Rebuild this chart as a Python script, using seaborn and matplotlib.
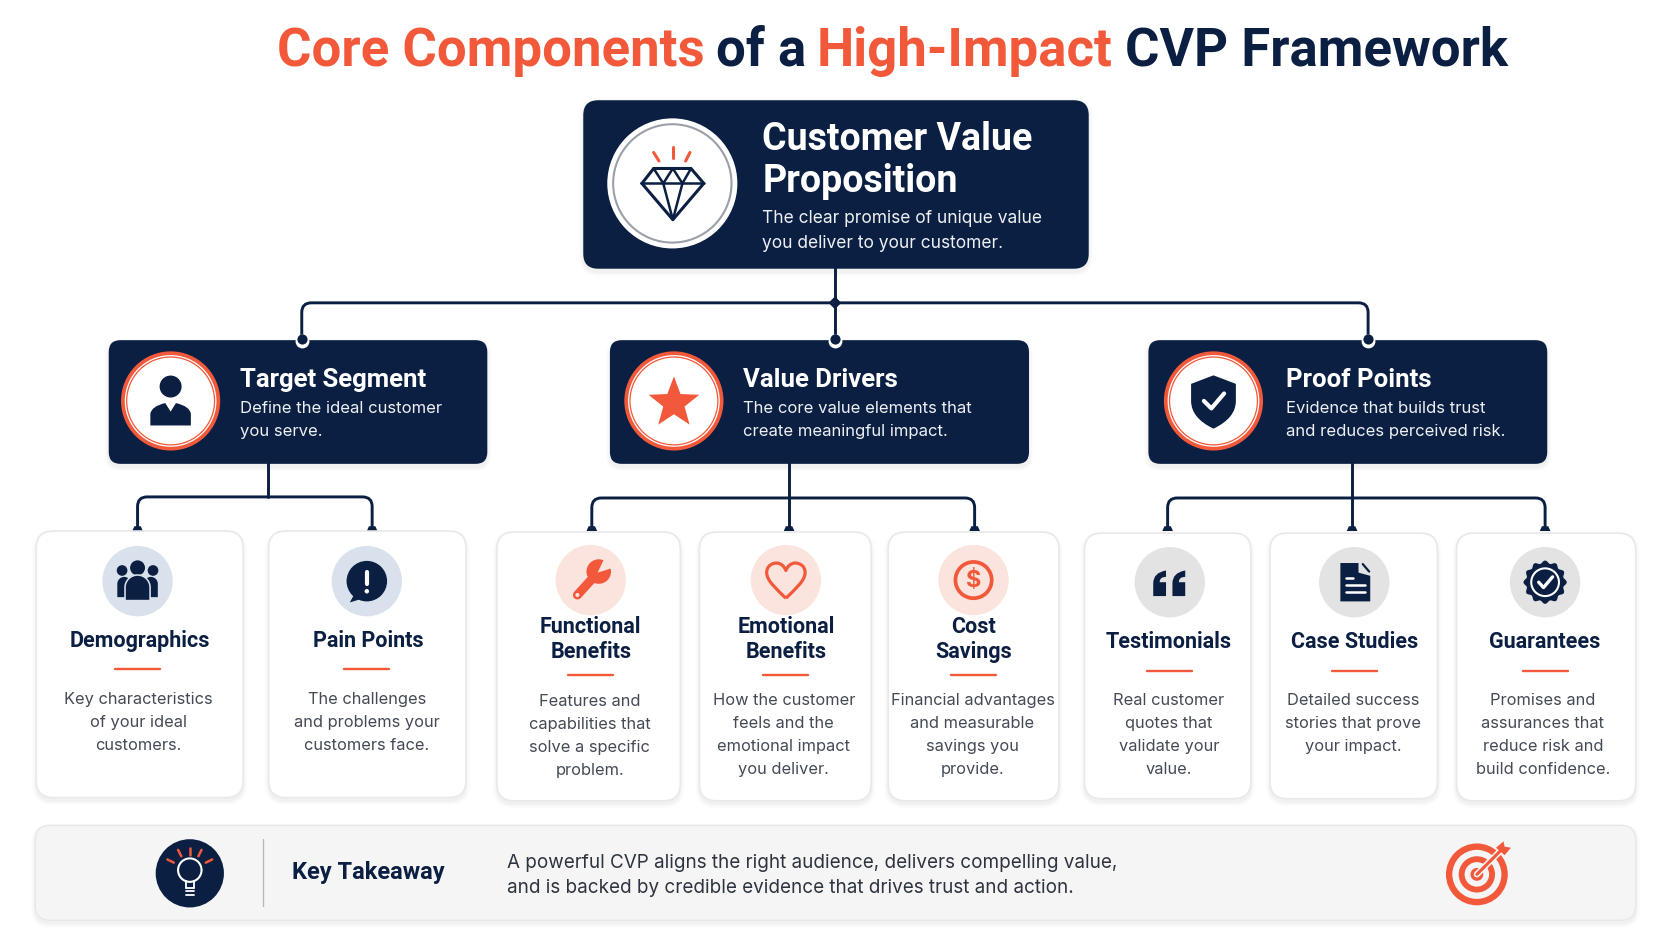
import numpy as np
import pandas as pd
import seaborn as sns
import matplotlib
matplotlib.use("Agg")
import matplotlib.pyplot as plt
from matplotlib.patches import FancyBboxPatch, Circle, Polygon, PathPatch
from matplotlib.path import Path

NAVY = "#0a1f42"
ORANGE = "#f2593a"
BODY = "#434a55"
HEAD_FONT = ["Roboto", "Inter", "DejaVu Sans"]

# text content
title_parts = ["Core Components", "of a", "High-Impact", "CVP Framework"]
root_title = ["Customer Value", "Proposition"]
root_desc = ["The clear promise of unique value", "you deliver to your customer."]
pillar_titles = ["Target Segment", "Value Drivers", "Proof Points"]
pillar_desc = [
    ["Define the ideal customer", "you serve."],
    ["The core value elements that", "create meaningful impact."],
    ["Evidence that builds trust", "and reduces perceived risk."],
]
card_titles = [
    ["Demographics"], ["Pain Points"],
    ["Functional", "Benefits"], ["Emotional", "Benefits"], ["Cost", "Savings"],
    ["Testimonials"], ["Case Studies"], ["Guarantees"],
]
card_desc = [
    ["Key characteristics", "of your ideal", "customers."],
    ["The challenges", "and problems your", "customers face."],
    ["Features and", "capabilities that", "solve a specific", "problem."],
    ["How the customer", "feels and the", "emotional impact", "you deliver."],
    ["Financial advantages", "and measurable", "savings you", "provide."],
    ["Real customer", "quotes that", "validate your", "value."],
    ["Detailed success", "stories that prove", "your impact."],
    ["Promises and", "assurances that", "reduce risk and", "build confidence."],
]
takeaway_label = "Key Takeaway"
takeaway_lines = [
    "A powerful CVP aligns the right audience, delivers compelling value,",
    "and is backed by credible evidence that drives trust and action.",
]

# layout, in units of the 1568 wide drawing
title_x = [260, 671, 766, 1055]
pillar_boxes = [(102, 457), (572, 965), (1077, 1451)]
pillar_icon_x = [160, 632, 1138]
pillar_text_x = [225, 697, 1206]
card_x0 = [34, 252, 466, 656, 833, 1017, 1191, 1366]
card_x1 = [228, 437, 638, 817, 993, 1173, 1348, 1534]
card_y0 = [498, 498, 499, 499, 499, 500, 500, 500]
card_y1 = [748, 748, 751, 751, 751, 749, 749, 751]
card_cx = [130, 344, 553, 735, 912, 1096, 1269, 1447]
card_title_x = [131, 345, 554, 737, 913, 1096, 1270, 1449]
disc_x = [129, 344, 554, 737, 913, 1097, 1270, 1449]
disc_y = [545, 545, 544, 544, 544, 546, 546, 546]
card_title_y = [600, 600, 587, 587, 587, 601, 601, 601]
dash_y = [627, 627, 633, 633, 633, 629, 629, 629]
desc_y = [655, 655, 657, 656, 656, 656, 656, 656]
disc_group = ["navy", "navy", "peach", "peach", "peach", "grey", "grey", "grey"]
drops = [(251, 466, [129, 349]), (740, 467, [555, 740, 914]), (1268, 467, [1095, 1268, 1449])]

sns.set_theme(style="white")
plt.rcParams["font.family"] = ["Inter", "Roboto", "DejaVu Sans"]

fig, ax = plt.subplots(figsize=(16.72, 9.41), dpi=100)
fig.subplots_adjust(0, 0, 1, 1)
H = 1568 * 941 / 1672
PX = 1672 / 1568  # pixels per drawing unit


def rrect(x0, y0, x1, y1, r, fc, ec="none", lw=0, z=2, alpha=None):
    ax.add_patch(FancyBboxPatch((x0, y0), x1 - x0, y1 - y0, boxstyle=f"round,pad=0,rounding_size={r}",
                                fc=fc, ec=ec, lw=lw, zorder=z, alpha=alpha))


def disc(x, y, r, fc, z=4, ec="none", lw=0):
    ax.add_patch(Circle((x, y), r, fc=fc, ec=ec, lw=lw, zorder=z))


def poly(pts, fc, z=4):
    ax.add_patch(Polygon(pts, closed=True, fc=fc, ec="none", zorder=z))


def stroke(xs, ys, color, lw, z=4):
    ax.plot(xs, ys, color=color, lw=lw, zorder=z, solid_capstyle="round", solid_joinstyle="round")


def shadow(x0, y0, x1, y1, r):
    for grow, a in [(4, 0.012), (2.5, 0.018), (1, 0.025)]:
        rrect(x0 - grow, y0 - grow + 3, x1 + grow, y1 + grow + 3, r + grow, "#000000", z=1, alpha=a)


def dome(x0, x1, ytop, ybot, fc, z=5):
    # flat bottom, rounded top
    cx = (x0 + x1) / 2
    k = 0.55
    mid = ytop + (x1 - x0) / 2
    v = [(x0, ybot), (x0, mid), (x0, mid - (mid - ytop) * k), (cx - (cx - x0) * k, ytop), (cx, ytop),
         (cx + (cx - x0) * k, ytop), (x1, mid - (mid - ytop) * k), (x1, mid), (x1, ybot), (x0, ybot)]
    c = [Path.MOVETO, Path.LINETO, Path.CURVE4, Path.CURVE4, Path.CURVE4, Path.CURVE4, Path.CURVE4, Path.CURVE4,
         Path.LINETO, Path.CLOSEPOLY]
    ax.add_patch(PathPatch(Path(v, c), fc=fc, ec="none", zorder=z))


def elbow(xl, xr, yt, yb, r=9):
    v = [(xl, yb), (xl, yt + r), (xl, yt), (xl + r, yt), (xr - r, yt), (xr, yt), (xr, yt + r), (xr, yb)]
    c = [Path.MOVETO, Path.LINETO, Path.CURVE3, Path.CURVE3, Path.LINETO, Path.CURVE3, Path.CURVE3, Path.LINETO]
    ax.add_patch(PathPatch(Path(v, c), fc="none", ec=NAVY, lw=2.1, zorder=1.5))


def icon_gem():
    xs = [602, 613, 648, 660, 631, 602]
    ys = [172, 158, 158, 172, 206, 172]
    stroke(xs, ys, NAVY, 2.2)
    stroke([602, 660], [172, 172], NAVY, 1.8)
    stroke([613, 622, 631, 640, 648], [158, 172, 158, 172, 158], NAVY, 1.8)
    stroke([622, 631, 640], [172, 206, 172], NAVY, 1.8)
    stroke([631, 631], [138, 148], ORANGE, 2.2)
    stroke([613, 618], [143, 151], ORANGE, 2.2)
    stroke([647, 643], [143, 151], ORANGE, 2.2)


def icon_person(cx):
    disc(cx, 362.5, 10.3, NAVY)
    v = [(cx - 19, 399), (cx - 19, 388), (cx - 18, 381), (cx - 5, 378), (cx, 386), (cx + 5, 378), (cx + 18, 381),
         (cx + 19, 388), (cx + 19, 399), (cx - 19, 399)]
    c = [Path.MOVETO, Path.LINETO, Path.CURVE3, Path.CURVE3, Path.LINETO, Path.LINETO, Path.CURVE3, Path.CURVE3,
         Path.LINETO, Path.CLOSEPOLY]
    ax.add_patch(PathPatch(Path(v, c), fc=NAVY, ec="none", zorder=4))


def icon_star(cx):
    ang = np.deg2rad(-90 + 36 * np.arange(10))
    rad = np.where(np.arange(10) % 2 == 0, 25, 10.5)
    poly(np.c_[cx + rad * np.cos(ang), 378 + rad * np.sin(ang)], ORANGE)


def icon_shield(cx):
    v = [(cx, 352), (cx + 21, 360), (cx + 21, 376), (cx + 21, 392), (cx, 402), (cx - 21, 392), (cx - 21, 376),
         (cx - 21, 360), (cx, 352)]
    c = [Path.MOVETO, Path.LINETO, Path.LINETO, Path.CURVE3, Path.CURVE3, Path.CURVE3, Path.CURVE3, Path.LINETO,
         Path.CLOSEPOLY]
    ax.add_patch(PathPatch(Path(v, c), fc=NAVY, ec="none", zorder=4))
    stroke([cx - 9, cx - 2, cx + 10], [376, 383, 369], "white", 3, z=5)


def icon_group(cx, cy):
    disc(cx - 14.5, cy - 10, 5, NAVY)
    disc(cx + 14.5, cy - 10, 5, NAVY)
    dome(cx - 19, cx - 6, cy - 4, cy + 15, NAVY)
    dome(cx + 6, cx + 19, cy - 4, cy + 15, NAVY)
    disc(cx, cy - 12.5, 7, NAVY, z=6)
    dome(cx - 12.5, cx + 12.5, cy - 6.5, cy + 18, "#d9e2ec", z=6)
    dome(cx - 11, cx + 11, cy - 5, cy + 17.5, NAVY, z=7)


def icon_bubble(cx, cy):
    disc(cx, cy, 19, NAVY)
    poly([(cx - 11, cy + 11), (cx - 16, cy + 20), (cx - 3, cy + 16)], NAVY)
    stroke([cx, cx], [cy - 9, cy + 3], "white", 3, z=5)
    disc(cx, cy + 9.5, 2.1, "white", z=5)


def icon_wrench(cx, cy):
    hx, hy = cx + 7.5, cy - 8
    stroke([cx - 12.5, hx], [cy + 14, hy], ORANGE, 6.5)
    disc(hx, hy, 11.5, ORANGE)
    poly([(hx - 1, hy + 1), (hx + 6, hy - 14), (hx + 15, hy - 4)], "#fbe4dd", z=5)
    disc(cx - 12.5, cy + 14, 1.9, "#fbe4dd", z=5)


def icon_heart(cx, cy):
    v = [(cx, cy + 17), (cx - 8, cy + 9), (cx - 18, cy + 1), (cx - 18, cy - 7), (cx - 18, cy - 14), (cx - 12, cy - 16),
         (cx - 9, cy - 16), (cx - 4, cy - 16), (cx - 1, cy - 12), (cx, cy - 9), (cx + 1, cy - 12), (cx + 4, cy - 16),
         (cx + 9, cy - 16), (cx + 12, cy - 16), (cx + 18, cy - 14), (cx + 18, cy - 7), (cx + 18, cy + 1),
         (cx + 8, cy + 9), (cx, cy + 17)]
    c = [Path.MOVETO] + [Path.CURVE4] * 18
    ax.add_patch(PathPatch(Path(v, c), fc="none", ec=ORANGE, lw=2.3, zorder=4, joinstyle="round"))


def icon_dollar(cx, cy):
    disc(cx, cy, 17, "none", ec=ORANGE, lw=2.7)
    ax.text(cx, cy + 1, "$", color=ORANGE, fontsize=17, fontweight="bold", ha="center", va="center", zorder=5)


def icon_quotes(cx, cy):
    for ox in (cx - 15.5, cx + 2.5):
        v = [(ox, cy + 13), (ox, cy + 1), (ox, cy - 9), (ox + 12, cy - 11), (ox + 12, cy - 5), (ox + 6, cy - 5),
             (ox + 6, cy), (ox + 12, cy), (ox + 12, cy + 13), (ox, cy + 13)]
        c = [Path.MOVETO, Path.LINETO, Path.CURVE3, Path.CURVE3, Path.LINETO, Path.CURVE3, Path.CURVE3, Path.LINETO,
             Path.LINETO, Path.CLOSEPOLY]
        ax.add_patch(PathPatch(Path(v, c), fc=NAVY, ec="none", zorder=4))


def icon_doc(cx, cy):
    poly([(cx - 13, cy - 18), (cx + 4, cy - 18), (cx + 4, cy - 9), (cx + 15, cy - 6), (cx + 15, cy + 18),
          (cx - 13, cy + 18)], NAVY)
    stroke([cx + 8, cx + 14], [cy - 17, cy - 10], NAVY, 1.6)
    stroke([cx - 8, cx - 1], [cy - 4, cy - 4], "white", 1.8, z=5)
    stroke([cx - 8, cx + 10], [cy + 3, cy + 3], "white", 1.8, z=5)
    stroke([cx - 8, cx + 10], [cy + 9, cy + 9], "white", 1.8, z=5)


def icon_badge(cx, cy):
    th = np.linspace(0, 2 * np.pi, 240)
    rad = 19 + 1.3 * np.cos(12 * th)
    poly(np.c_[cx + rad * np.cos(th), cy + rad * np.sin(th)], NAVY)
    disc(cx, cy, 13, "none", ec="white", lw=1.5, z=5)
    stroke([cx - 6, cx - 1.5, cx + 7], [cy, cy + 5, cy - 5], "white", 2.4, z=5)


def icon_bulb(cx, cy):
    disc(cx, cy, 32, NAVY, z=3)
    disc(cx, cy - 3, 11, "none", ec="white", lw=1.5)
    stroke([cx - 4, cx - 4], [cy + 7, cy + 14], "white", 1.3)
    stroke([cx + 4, cx + 4], [cy + 7, cy + 14], "white", 1.3)
    for dy in (14, 17, 20):
        stroke([cx - 4, cx + 4], [cy + dy, cy + dy], "white", 1.3)
    for x0, y0, x1, y1 in [(0, -24, 0, -17), (-11, -22, -8, -16), (11, -22, 8, -16), (-21, -13, -15, -10),
                           (21, -13, 15, -10)]:
        stroke([cx + x0, cx + x1], [cy + y0, cy + y1], ORANGE, 1.8)


def icon_target(cx, cy):
    for r, col in [(29, ORANGE), (23, "#f5f5f5"), (17, ORANGE), (11.5, "#f5f5f5"), (6, ORANGE)]:
        disc(cx, cy, r, col, z=3.5)
    stroke([cx, cx + 21], [cy, cy - 21], "#f5f5f5", 4.5, z=3.6)
    stroke([cx, cx + 22], [cy, cy - 22], ORANGE, 2.2, z=3.7)
    poly([(cx + 18, cy - 25), (cx + 25, cy - 31), (cx + 26, cy - 26), (cx + 32, cy - 25), (cx + 26, cy - 18)], ORANGE)


# connectors first, boxes sit on top of them
elbow(283, 1283, 284, 319)
ax.plot([783, 783], [250, 319], color=NAVY, lw=2.1, zorder=1.5)
for x_stem, y_bar, x_drops in drops:
    ax.plot([x_stem, x_stem], [433, y_bar], color=NAVY, lw=2.1, zorder=1.5)
    elbow(x_drops[0], x_drops[-1], y_bar, 496)
    if len(x_drops) == 3:
        ax.plot([x_drops[1]] * 2, [y_bar, 496], color=NAVY, lw=2.1, zorder=1.5)
    for x in x_drops:
        poly([(x - 5, 498), (x - 3, 493.5), (x + 3, 493.5), (x + 5, 498)], NAVY, z=1.6)
poly([(783, 278), (789, 284), (783, 290), (777, 284)], NAVY, z=1.6)

# root box
shadow(547, 94, 1021, 252, 14)
rrect(547, 94, 1021, 252, 14, NAVY)
disc(630.5, 172, 61, "white", z=3)
disc(630.5, 172, 55.5, "none", ec="#9a9fa8", lw=1.5, z=3.2)
icon_gem()
for y, txt in zip([131, 170], root_title):
    ax.text(715, y, txt, color="white", fontsize=27, fontweight="bold", family=HEAD_FONT, va="center", zorder=5)
for y, txt in zip([205, 228], root_desc):
    ax.text(715, y, txt, color="#eef0f4", fontsize=12.5, va="center", zorder=5)

# pillar boxes
for i, (x0, x1) in enumerate(pillar_boxes):
    shadow(x0, 319, x1, 435, 11)
    rrect(x0, 319, x1, 435, 11, NAVY)
    cx = pillar_icon_x[i]
    disc(cx, 376, 46.5, ORANGE, z=3)
    disc(cx, 376, 43, "white", z=3.1)
    disc(cx, 376, 41.8, ORANGE, z=3.2)
    disc(cx, 376, 40.6, "white", z=3.3)
    ax.text(pillar_text_x[i], 356, pillar_titles[i], color="white", fontsize=18.5, fontweight="bold", family=HEAD_FONT,
            va="center", zorder=5)
    for y, txt in zip([383, 405], pillar_desc[i]):
        ax.text(pillar_text_x[i], y, txt, color="#eef0f4", fontsize=12, va="center", zorder=5)
icon_person(pillar_icon_x[0])
icon_star(pillar_icon_x[1])
icon_shield(pillar_icon_x[2])

# cards
for i in range(len(card_titles)):
    shadow(card_x0[i], card_y0[i], card_x1[i], card_y1[i], 16)
    rrect(card_x0[i], card_y0[i], card_x1[i], card_y1[i], 16, "white", ec="#e9e9e9", lw=1.2)
    for j, txt in enumerate(card_titles[i]):
        ax.text(card_title_x[i], card_title_y[i] + 1 + j * 23, txt, color=NAVY, fontsize=15.5, fontweight="bold",
                family=HEAD_FONT, ha="center", va="center", zorder=5)
    ax.plot([disc_x[i] - 21, disc_x[i] + 21], [dash_y[i]] * 2, color=ORANGE, lw=1.7, zorder=4)
    for j, txt in enumerate(card_desc[i]):
        ax.text(card_cx[i], desc_y[i] + 1 + j * 21.6, txt, color=BODY, fontsize=11.8,
                ha="center", va="center", zorder=5)

# round backdrops of the icons
discs = pd.DataFrame({"x": disc_x, "y": disc_y, "group": disc_group})
sns.scatterplot(data=discs, x="x", y="y", hue="group", s=(2 * 33 * PX * 0.72) ** 2, linewidth=0, legend=False, ax=ax,
                palette={"navy": "#d9e2ec", "peach": "#fbe4dd", "grey": "#e3e3e3"}, zorder=3)

# white and navy dots where the root line meets the pillars
dots = pd.DataFrame({"x": [283, 783, 1283], "y": [319.5] * 3})
sns.scatterplot(data=dots, x="x", y="y", color="white", s=(13 * PX * 0.72) ** 2, linewidth=0, ax=ax, zorder=3)
sns.scatterplot(data=dots, x="x", y=dots["y"] - 1.5, color=NAVY, s=(9.5 * PX * 0.72) ** 2, linewidth=0, ax=ax, zorder=3.1)

icon_group(129, 545)
icon_bubble(344, 545)
icon_wrench(554, 544)
icon_heart(737, 544)
icon_dollar(913, 544)
icon_quotes(1097, 546)
icon_doc(1270, 546)
icon_badge(1449, 546)

# takeaway bar
shadow(33, 774, 1534, 863, 14)
rrect(33, 774, 1534, 863, 14, "#f5f5f5", ec="#e8e8e8", lw=1)
icon_bulb(178, 819)
ax.plot([247, 247], [787, 850], color="#b5b8bd", lw=1, zorder=4)
ax.text(274, 818, takeaway_label, color=NAVY, fontsize=17, fontweight="bold", family=HEAD_FONT, va="center", zorder=5)
for y, txt in zip([809, 833], takeaway_lines):
    ax.text(475, y, txt, color="#2d3440", fontsize=13.6, va="center", zorder=5)
icon_target(1385, 820)

# headline, two colours
for x, txt, col in zip(title_x, title_parts, [ORANGE, NAVY, ORANGE, NAVY]):
    ax.text(x, 48, txt, color=col, fontsize=38, fontweight="bold", family=HEAD_FONT, va="center", zorder=5)

ax.set_xlim(0, 1568)
ax.set_ylim(H, 0)
ax.set_xlabel("")
ax.set_ylabel("")
ax.set_axis_off()
fig.savefig("out.png", dpi=100, facecolor="white")
